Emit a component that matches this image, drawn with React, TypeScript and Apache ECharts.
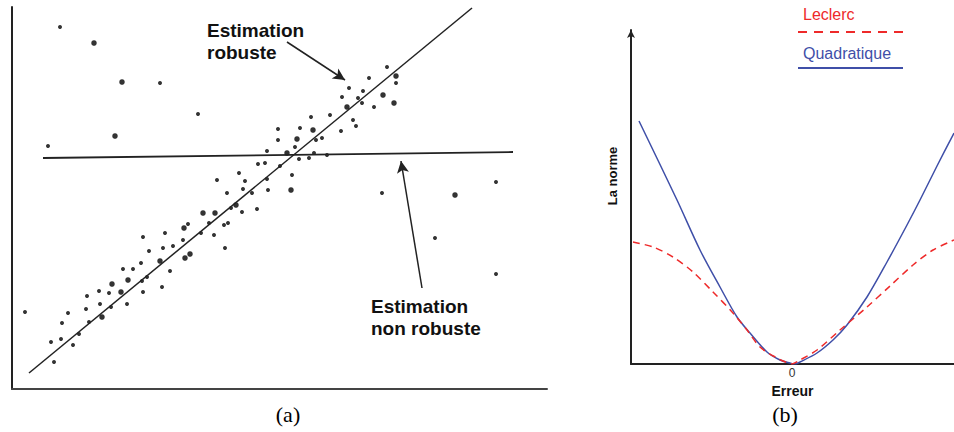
import React, { useEffect, useRef } from "react";
import * as echarts from "echarts";

// ---------- Panel (a): scatter ----------
const smallDots: number[][] = [
  [48, 362], [148, 306], [186, 275], [36, 243], [246, 225], [227, 216], [205, 209], [233, 208],
  [215, 196], [231, 200], [240, 196], [375, 322], [357, 311], [384, 306], [337, 301], [351, 298],
  [330, 292], [346, 291], [350, 286], [362, 282], [318, 274], [299, 272], [341, 269], [344, 263],
  [329, 258], [288, 261], [266, 260], [310, 251], [304, 249], [266, 249], [283, 242], [255, 238],
  [302, 236], [315, 234], [287, 230], [297, 231], [253, 226], [268, 223], [280, 214], [255, 210],
  [256, 199], [370, 196], [484, 207], [423, 151], [484, 115], [245, 180], [219, 181], [230, 177],
  [197, 166], [216, 166], [212, 164], [176, 165], [189, 156], [202, 154], [153, 156], [131, 152],
  [171, 149], [161, 143], [151, 141], [137, 138], [213, 141], [129, 126], [158, 118], [111, 120],
  [121, 120], [135, 112], [130, 108], [87, 98], [97, 96], [150, 102], [131, 97], [75, 93],
  [88, 85], [115, 85], [99, 82], [74, 80], [56, 76], [77, 67], [50, 66], [67, 55], [49, 50],
  [39, 47], [61, 44], [42, 27], [13, 77]
];
const bigDots: number[][] = [
  [82, 346], [110, 307], [103, 253], [384, 313], [371, 294], [335, 282], [382, 286], [301, 259],
  [285, 250], [275, 236], [279, 199], [443, 194], [224, 184], [203, 176], [191, 176], [172, 161],
  [178, 135], [173, 131], [148, 128], [116, 109], [100, 105], [109, 97], [90, 72]
];
const robustFit: number[][] = [[17, 16], [460, 381]];
const nonRobustFit: number[][] = [[31, 231], [501, 237]];
const robustArrow: number[][] = [[275, 347], [333, 309]];
const nonRobustArrow: number[][] = [[410, 101], [389, 228]];
const robustLabel = ["Estimation", "robuste"];
const nonRobustLabel = ["Estimation", "non robuste"];

// ---------- Panel (b): error norms ----------
const quadratic: number[][] = [
  [-153, 243], [-115, 164], [-92, 114], [-72, 77], [-55, 47], [-42, 31], [-25, 12], [-12, 4],
  [-2, 1], [3, 0], [8, 2], [25, 11], [41, 24], [55, 39], [75, 67], [95, 102], [115, 139],
  [128, 164], [145, 198], [162, 231]
];
const leclerc: number[][] = [
  [-159, 122], [-139, 117], [-119, 107], [-99, 92], [-79, 72], [-59, 51], [-45, 34], [-32, 17],
  [-15, 6], [-4, 1], [0, 0], [8, 4], [25, 14], [48, 34], [75, 57], [98, 78], [121, 99],
  [141, 114], [162, 124]
];
const xTickValues = [0];
const legendNames = ["Leclerc", "Quadratique"];
const axisNames = { x: "Erreur", y: "La norme" };
const captions = ["(a)", "(b)"];

const SANS = "'Liberation Sans', Arial, sans-serif";
const SERIF = "'Liberation Serif', 'Times New Roman', serif";
const RED = "#ee2a2a";
const BLUE = "#3f4fa8";

export default function App() {
  const ref = useRef<HTMLDivElement>(null);
  useEffect(() => {
    if (!ref.current) return;
    const chart = echarts.init(ref.current, undefined, { renderer: "svg" });
    const hiddenAxisBits = {
      axisTick: { show: false },
      axisLabel: { show: false },
      splitLine: { show: false },
    };
    chart.setOption({
      animation: false,
      backgroundColor: "#fff",
      grid: [
        { left: 12, top: 7, right: 407, bottom: 43 },
        { left: 631, top: 30, right: 0, bottom: 68 },
      ],
      xAxis: [
        {
          gridIndex: 0, type: "value", min: 0, max: 535,
          axisLine: { show: true, lineStyle: { color: "#444", width: 2 } },
          ...hiddenAxisBits,
        },
        {
          gridIndex: 1, type: "value", min: -161, max: 162,
          axisLine: { show: true, onZero: false, lineStyle: { color: "#222", width: 2 } },
          axisTick: { show: false },
          splitLine: { show: false },
          axisLabel: {
            show: true, customValues: xTickValues, margin: 3,
            color: "#333", fontSize: 12, fontFamily: SANS,
          },
          name: axisNames.x, nameLocation: "middle", nameGap: 14,
          nameTextStyle: { fontWeight: "bold", fontSize: 14, color: "#111", fontFamily: SANS },
        },
      ],
      yAxis: [
        {
          gridIndex: 0, type: "value", min: 0, max: 382,
          axisLine: { show: true, lineStyle: { color: "#222", width: 2 } },
          ...hiddenAxisBits,
        },
        {
          gridIndex: 1, type: "value", min: 0, max: 334,
          axisLine: {
            show: true, onZero: false, symbol: ["none", "arrow"], symbolSize: [6, 8],
            lineStyle: { color: "#222", width: 2 },
          },
          ...hiddenAxisBits,
        },
      ],
      series: [
        {
          type: "scatter", xAxisIndex: 0, yAxisIndex: 0, data: smallDots,
          symbolSize: 4, itemStyle: { color: "#000" }, silent: true,
        },
        {
          type: "scatter", xAxisIndex: 0, yAxisIndex: 0, data: bigDots,
          symbolSize: 5.5, itemStyle: { color: "#000" }, silent: true,
          markLine: {
            silent: true,
            symbolSize: [9, 12],
            label: { show: false },
            lineStyle: { color: "#222", width: 1.5, type: "solid" },
            data: [
              [
                { coord: robustArrow[0], symbol: "none" },
                { coord: robustArrow[1], symbol: "arrow" },
              ],
              [
                { coord: nonRobustArrow[0], symbol: "none" },
                { coord: nonRobustArrow[1], symbol: "arrow" },
              ],
            ],
          },
        },
        {
          type: "line", xAxisIndex: 0, yAxisIndex: 0, data: robustFit,
          symbol: "none", lineStyle: { color: "#222", width: 1.5 }, silent: true,
        },
        {
          type: "line", xAxisIndex: 0, yAxisIndex: 0, data: nonRobustFit,
          symbol: "none", lineStyle: { color: "#222", width: 1.8 }, silent: true,
        },
        {
          name: legendNames[1], type: "line", xAxisIndex: 1, yAxisIndex: 1, data: quadratic,
          symbol: "none", smooth: 0.3, lineStyle: { color: BLUE, width: 1.5 }, silent: true,
        },
        {
          name: legendNames[0], type: "line", xAxisIndex: 1, yAxisIndex: 1, data: leclerc,
          symbol: "none", smooth: 0.3,
          lineStyle: { color: RED, width: 1.5, type: [7, 5] }, silent: true,
        },
      ],
      graphic: [
        { type: "text", x: 207, y: 30, style: { text: robustLabel[0], font: `bold 19px ${SANS}`, fill: "#111", textVerticalAlign: "middle" } },
        { type: "text", x: 207, y: 52, style: { text: robustLabel[1], font: `bold 19px ${SANS}`, fill: "#111", textVerticalAlign: "middle" } },
        { type: "text", x: 371, y: 306, style: { text: nonRobustLabel[0], font: `bold 19px ${SANS}`, fill: "#111", textVerticalAlign: "middle" } },
        { type: "text", x: 371, y: 328, style: { text: nonRobustLabel[1], font: `bold 19px ${SANS}`, fill: "#111", textVerticalAlign: "middle" } },
        // legend of panel (b)
        { type: "text", x: 803, y: 14, style: { text: legendNames[0], font: `16px ${SANS}`, fill: RED, textVerticalAlign: "middle" } },
        { type: "line", shape: { x1: 798, y1: 32, x2: 903, y2: 32 }, style: { stroke: RED, lineWidth: 2, lineDash: [9, 7] } },
        { type: "text", x: 803, y: 53, style: { text: legendNames[1], font: `16px ${SANS}`, fill: BLUE, textVerticalAlign: "middle" } },
        { type: "line", shape: { x1: 798, y1: 68, x2: 903, y2: 68 }, style: { stroke: BLUE, lineWidth: 2 } },
        // y-axis name of panel (b)
        {
          type: "text", x: 612, y: 176, rotation: Math.PI / 2,
          style: { text: axisNames.y, font: `bold 13px ${SANS}`, fill: "#111", textAlign: "center", textVerticalAlign: "middle" },
        },
        // captions
        { type: "text", x: 288, y: 414, style: { text: captions[0], font: `22px ${SERIF}`, fill: "#000", textAlign: "center", textVerticalAlign: "middle" } },
        { type: "text", x: 785, y: 414, style: { text: captions[1], font: `22px ${SERIF}`, fill: "#000", textAlign: "center", textVerticalAlign: "middle" } },
      ],
    });
    return () => chart.dispose();
  }, []);
  return (
    <div
      ref={ref}
      style={{ position: "fixed", left: 0, top: 0, width: 954, height: 432, background: "#fff" }}
    />
  );
}
